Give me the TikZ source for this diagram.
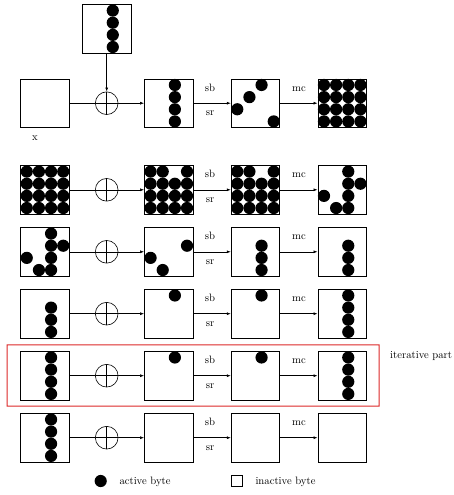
\documentclass[tikz,border=0pt]{standalone}
\usetikzlibrary{arrows.meta}
\definecolor{iterred}{RGB}{220,40,40}
\begin{document}
\begin{tikzpicture}[x=1pt,y=-1pt,
  box/.style={draw,line width=0.8pt,minimum size=48.6pt,inner sep=0pt},
  arr/.style={line width=0.6pt,-{Latex[length=4pt,width=3pt]}},
  xor/.style={circle,draw,line width=0.6pt,fill=white,minimum size=22.7pt,inner sep=0pt,
    path picture={\draw[line width=0.6pt] (path picture bounding box.north) -- (path picture bounding box.south)
      (path picture bounding box.west) -- (path picture bounding box.east);}},
  lbl/.style={font=\fontsize{10.7}{12}\selectfont,inner sep=0pt,anchor=base},
  txt/.style={font=\fontsize{10.7}{12}\selectfont,inner sep=0pt,anchor=base west},
  iterbox/.style={minimum width=372.5pt,minimum height=61.8pt,inner sep=0pt},
  iterframe/.style={fill=iterred,even odd rule}]
\useasboundingbox (0,0) rectangle (453,495);
\newcommand{\bytes}[3]{\edef\bytelist{#3}\foreach \r/\c in \bytelist \fill ({#1-18.225+12.15*\c},{#2-18.225+12.15*\r}) circle (6.1);}
\def\full{0/0,0/1,0/2,0/3,1/0,1/1,1/2,1/3,2/0,2/1,2/2,2/3,3/0,3/1,3/2,3/3}
\def\colz{0/2,1/2,2/2,3/2}
\def\fullbut{0/0,0/1,0/3,1/0,1/1,1/2,1/3,2/0,2/1,2/2,2/3,3/0,3/1,3/2,3/3}
\def\sev{0/2,1/2,1/3,2/0,2/2,3/1,3/2}
% columns
\def\XA{45}\def\XP{106.7}\def\XB{168.8}\def\XC{255.5}\def\XD{342.2}
\def\XS{210}\def\XM{299}
% key box
\node[box] (k) at (\XP,28.8) {};
\bytes{\XP}{28.8}{\colz}
% rows
\foreach \i/\Y in {1/103.2,2/189.8,3/251.8,4/313.7,5/375.7,6/437.7}{
  \node[box] (a\i) at (\XA,\Y) {};
  \node[box] (b\i) at (\XB,\Y) {};
  \node[box] (c\i) at (\XC,\Y) {};
  \node[box] (d\i) at (\XD,\Y) {};
  \draw[arr] (a\i.east) -- (b\i.west);
  \node[xor] (p\i) at (\XP,\Y) {};
  \draw[arr] (b\i.east) -- (c\i.west);
  \draw[arr] (c\i.east) -- (d\i.west);
  \node[lbl] (sb\i) at (\XS,\Y-12) {sb};
  \node[lbl] (sr\i) at (\XS,\Y+12.5) {sr};
  \node[lbl] (mc\i) at (\XM,\Y-12) {mc};
}
\draw[arr] (k.south) -- (p1.north);
\node[lbl] (xlab) at (35,140.5) {x};
% row 1
\bytes{\XB}{103.2}{\colz}
\bytes{\XC}{103.2}{0/2,1/1,2/0,3/3}
\bytes{\XD}{103.2}{\full}
% row 2
\bytes{\XA}{189.8}{\full}
\bytes{\XB}{189.8}{\fullbut}
\bytes{\XC}{189.8}{\fullbut}
\bytes{\XD}{189.8}{\sev}
% row 3
\bytes{\XA}{251.8}{\sev}
\bytes{\XB}{251.8}{1/3,2/0,3/1}
\bytes{\XC}{251.8}{1/2,2/2,3/2}
\bytes{\XD}{251.8}{1/2,2/2,3/2}
% row 4
\bytes{\XA}{313.7}{1/2,2/2,3/2}
\bytes{\XB}{313.7}{0/2}
\bytes{\XC}{313.7}{0/2}
\bytes{\XD}{313.7}{\colz}
% row 5
\bytes{\XA}{375.7}{\colz}
\bytes{\XB}{375.7}{0/2}
\bytes{\XC}{375.7}{0/2}
\bytes{\XD}{375.7}{\colz}
% row 6
\bytes{\XA}{437.7}{\colz}
% red box (iterative part)
\node[iterbox] (iter) at (193.15,375.5) {};
\path[iterframe] (iter.north west) rectangle (iter.south east)
  ([shift={(0.9,0.9)}]iter.north west) rectangle ([shift={(-0.9,-0.9)}]iter.south east);
\node[txt] (itertxt) at (390,358.5) {iterative part};
% legend
\fill (100.7,481) circle (6.1);
\node[txt] (act) at (119.3,484.5) {active byte};
\node[draw,line width=0.8pt,minimum size=11.7pt,inner sep=0pt] (inact) at (236.8,481) {};
\node[txt] (inacttxt) at (255.3,484.5) {inactive byte};
\end{tikzpicture}
\end{document}
